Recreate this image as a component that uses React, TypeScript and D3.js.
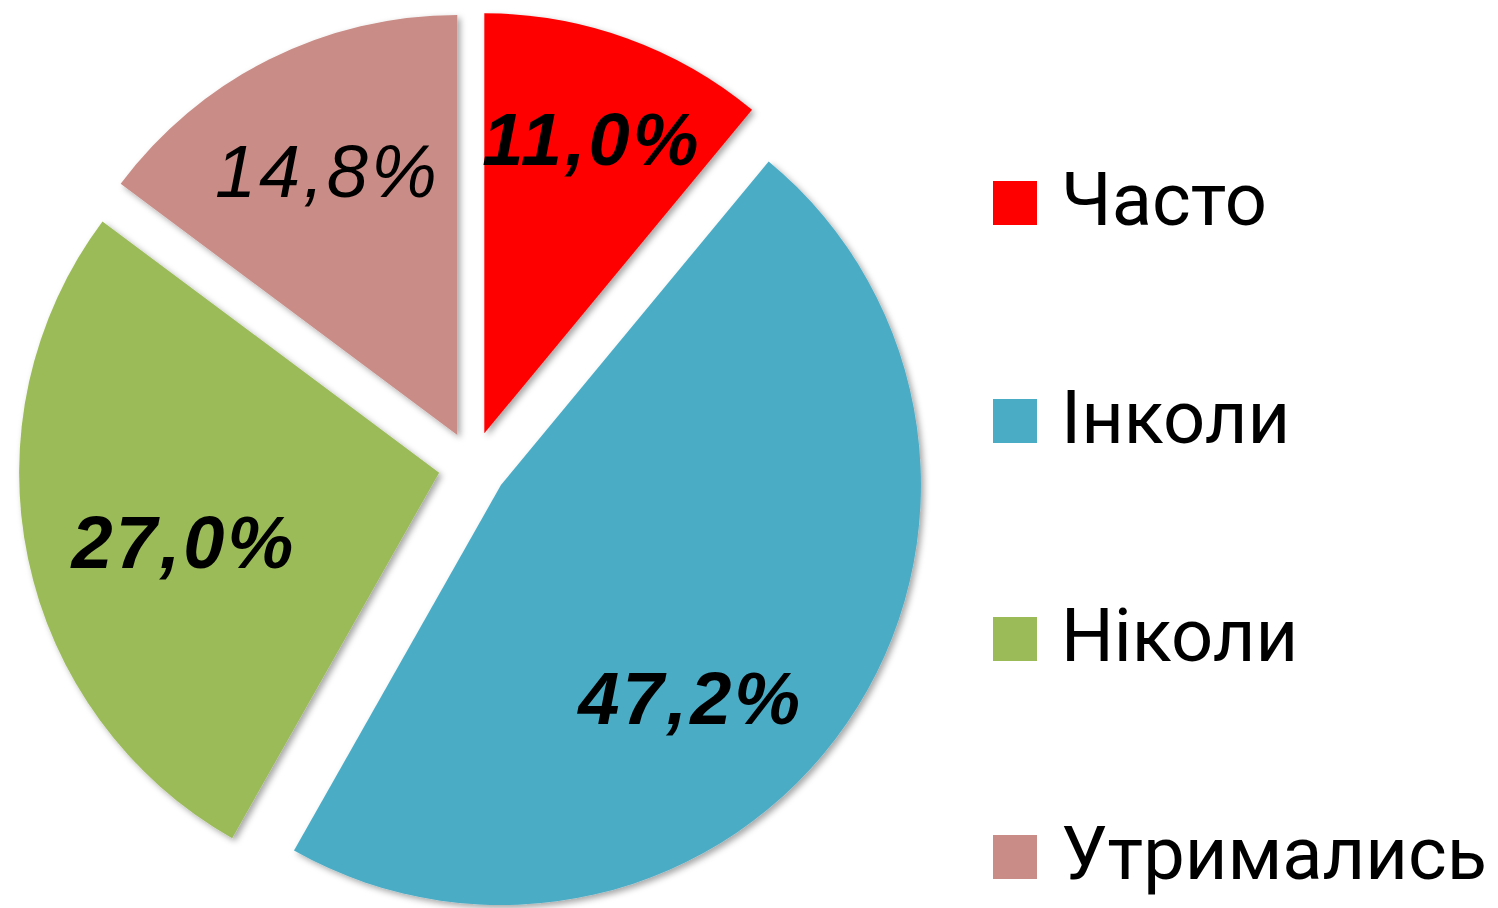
import React from "react";
import * as d3 from "d3";

const categories = ["Часто", "Інколи", "Ніколи", "Утримались"];
const values = [11.0, 47.2, 27.0, 14.8];
const labels = ["11,0%", "47,2%", "27,0%", "14,8%"];
const colors = ["#FF0000", "#4BACC6", "#9BBB59", "#C98C86"];
const labelWeights = ["bold", "bold", "bold", "normal"];
// label placement tweaks: fraction of radius and angle offset (degrees)
const labelRadiusFrac = [0.745, 0.68, 0.63, 0.7];
const labelAngleOffset = [0.3, 13.8, -3.4, 0.4];

const W = 1498;
const H = 908;
const cx = 472.7;
const cy = 465.6;
const R = 420;
const explode = 34.3;

export default function App() {
  const pie = d3.pie<number>().sort(null).value((d) => d)(values);
  const arc = d3.arc<any>().innerRadius(0).outerRadius(R);
  const legendY = d3.scalePoint<string>().domain(categories).range([203, 857]);

  return (
    <svg
      width={W}
      height={H}
      style={{ position: "absolute", left: 0, top: 0, display: "block" }}
    >
      <defs>
        <filter id="sh" x="-20%" y="-20%" width="140%" height="140%">
          <feDropShadow dx="3" dy="3" stdDeviation="3" floodColor="#000" floodOpacity="0.35" />
        </filter>
      </defs>
      {pie.map((p, i) => {
        const mid = (p.startAngle + p.endAngle) / 2;
        const ox = explode * Math.sin(mid);
        const oy = -explode * Math.cos(mid);
        const la = mid + (labelAngleOffset[i] * Math.PI) / 180;
        const lr = labelRadiusFrac[i] * R;
        const lx = ox + lr * Math.sin(la);
        const ly = oy - lr * Math.cos(la);
        return (
          <g key={i} transform={`translate(${cx},${cy})`}>
            <path
              d={arc(p) as string}
              transform={`translate(${ox},${oy})`}
              fill={colors[i]}
              filter="url(#sh)"
            />
            <text
              x={lx}
              y={ly}
              textAnchor="middle"
              dominantBaseline="central"
              fontFamily="'Liberation Sans', Arial, sans-serif"
              fontStyle="italic"
              fontWeight={labelWeights[i]}
              fontSize={74}
              letterSpacing={3}
              fill="#000"
            >
              {labels[i]}
            </text>
          </g>
        );
      })}
      {categories.map((c, i) => {
        const y = legendY(c) as number;
        return (
          <g key={c}>
            <rect x={993} y={y - 22} width={44} height={44} fill={colors[i]} />
            <text
              x={1061}
              y={y + 22}
              fontFamily="Roboto, sans-serif"
              fontSize={74}
              fill="#000"
            >
              {c}
            </text>
          </g>
        );
      })}
    </svg>
  );
}
